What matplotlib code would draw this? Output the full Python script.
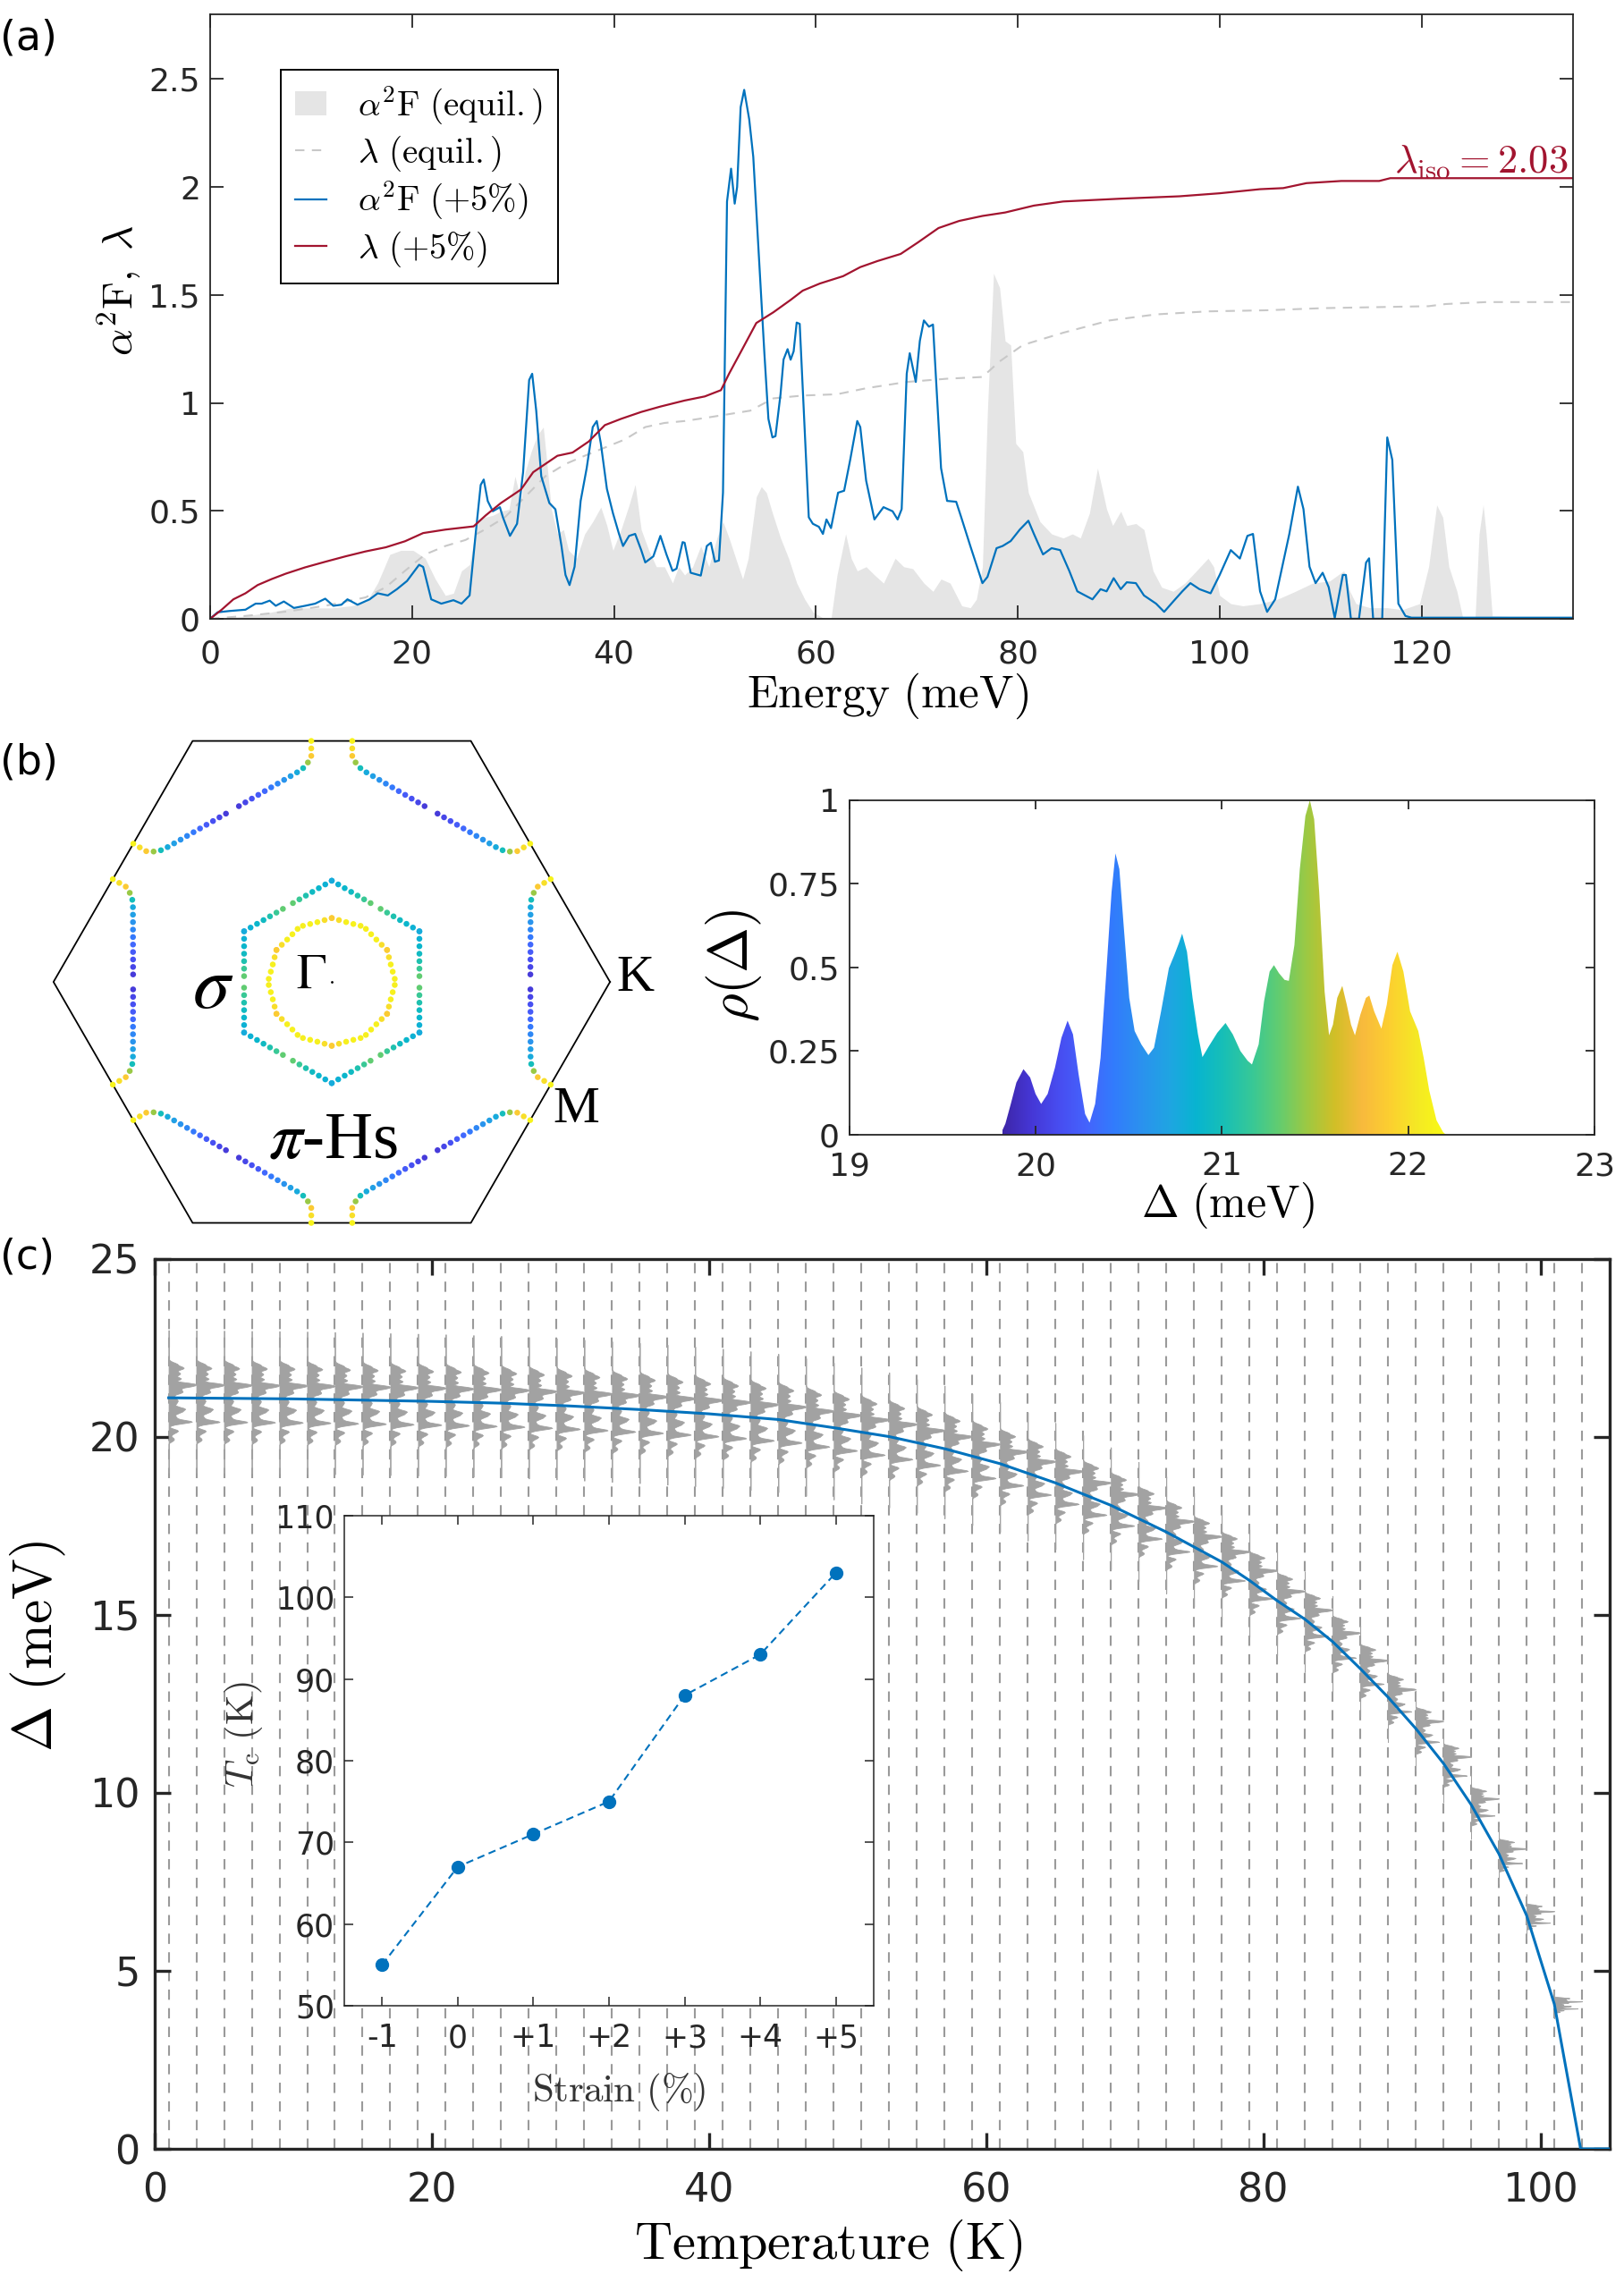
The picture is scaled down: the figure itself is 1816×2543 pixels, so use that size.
import numpy as np
import matplotlib
matplotlib.use('Agg')
import matplotlib.pyplot as plt
from matplotlib.colors import LinearSegmentedColormap

plt.rcParams['font.family'] = 'DejaVu Sans'
plt.rcParams['mathtext.fontset'] = 'cm'

DARK = '#262626'
BLUE = '#0072BD'
RED = '#A2142F'

# ---------------- (a) Eliashberg function and coupling ----------------
E_eq = [0, 3, 6, 8, 10, 12, 14, 15.5, 16.6, 17.8, 18.9, 20.1, 21.3, 22.3, 23.3, 24.1,
        24.9, 25.7, 26.45, 27.2, 28.0, 28.8, 29.6, 30.2, 30.8, 31.2, 31.8, 32.4, 33.0,
        33.25, 33.8, 34.4, 35.0, 35.5, 36.3, 37.1, 37.9, 38.7, 39.3, 39.9, 40.7, 41.5,
        42.1, 42.7, 43.45, 44.2, 45.0, 45.8, 46.4, 47.0, 47.8, 48.6, 49.4, 50.2, 50.8,
        51.4, 52.2, 52.75, 53.3, 54.1, 54.6, 55.1, 55.7, 56.5, 57.3, 58.1, 58.9, 59.7,
        60.7, 61.5, 62.1, 62.95, 63.5, 64.1, 64.98, 65.8, 66.7, 67.85, 68.7, 69.6, 70.7,
        71.6, 72.4, 73.3, 74.45, 75.3, 75.9, 76.5, 77.0, 77.6, 78.2, 78.75, 79.3, 79.8,
        80.5, 81.05, 82.2, 83.35, 84.5, 85.4, 86.2, 87.1, 87.9, 88.8, 89.4, 90.2, 90.8,
        91.7, 92.5, 93.4, 94.25, 95.4, 96.55, 97.7, 98.85, 99.4, 100.0, 101.1, 102.3,
        104.0, 105.7, 107.5, 109.2, 110.9, 112.3, 112.9, 113.5, 114.9, 116.6, 118.1,
        119.8, 120.7, 121.5, 122.1, 122.7, 123.5, 124.1, 125.3, 125.7, 126.1, 126.4,
        127.0, 135]
a2F_eq = [0, 0.01, 0.03, 0.05, 0.05, 0.05, 0.06, 0.08, 0.166, 0.298, 0.317, 0.317, 0.28,
          0.184, 0.108, 0.118, 0.222, 0.251, 0.45, 0.47, 0.479, 0.498, 0.507, 0.66, 0.546,
          0.679, 0.774, 0.85, 0.888, 0.774, 0.507, 0.393, 0.413, 0.317, 0.28, 0.393, 0.45,
          0.517, 0.432, 0.317, 0.413, 0.527, 0.622, 0.413, 0.317, 0.241, 0.241, 0.166,
          0.241, 0.203, 0.241, 0.337, 0.241, 0.374, 0.45, 0.374, 0.26, 0.184, 0.28, 0.565,
          0.612, 0.584, 0.489, 0.374, 0.28, 0.166, 0.09, 0.032, 0.004, 0.0, 0.203, 0.393,
          0.28, 0.222, 0.241, 0.203, 0.165, 0.28, 0.241, 0.232, 0.165, 0.127, 0.184, 0.165,
          0.06, 0.051, 0.09, 0.241, 0.964, 1.60, 1.534, 1.287, 1.268, 0.812, 0.774, 0.584,
          0.45, 0.393, 0.374, 0.393, 0.374, 0.489, 0.698, 0.508, 0.432, 0.498, 0.432,
          0.441, 0.413, 0.222, 0.146, 0.127, 0.165, 0.222, 0.28, 0.241, 0.108, 0.07, 0.06,
          0.07, 0.09, 0.127, 0.165, 0.175, 0.222, 0.127, 0.07, 0.051, 0.051, 0.042, 0.07,
          0.241, 0.527, 0.47, 0.241, 0.127, 0.0, 0.0, 0.393, 0.527, 0.393, 0.013, 0.0]

E_lam_eq = [0, 3.5, 7.5, 11.4, 15.4, 17.4, 19.3, 21.3, 23.3, 25.3, 27.2, 29.2, 31.2, 33.2,
            35.2, 37.1, 39.1, 41.1, 43.1, 45.0, 47.0, 49.0, 51.0, 53.5, 55.8, 58.7, 62.1,
            65.0, 69.0, 73.0, 76.5, 78.2, 80.5, 84.5, 89.1, 93.7, 98.85, 104.6, 110.3,
            120.7, 122.4, 126.4, 135]
lam_eq = [0, 0.013, 0.033, 0.06, 0.099, 0.146, 0.222, 0.298, 0.337, 0.365, 0.413, 0.47,
          0.565, 0.66, 0.717, 0.755, 0.793, 0.831, 0.888, 0.907, 0.916, 0.93, 0.945, 0.964,
          1.021, 1.034, 1.04, 1.068, 1.097, 1.112, 1.12, 1.192, 1.268, 1.325, 1.382, 1.41,
          1.424, 1.429, 1.439, 1.448, 1.458, 1.467, 1.467]

E_5 = [0, 0.74, 1.93, 3.5, 4.5, 5.1, 5.9, 6.5, 7.3, 8.3, 9.4, 10.4, 11.4, 12.2, 13.0, 13.6,
       14.6, 15.8, 16.6, 17.6, 18.5, 19.5, 20.7, 21.1, 21.9, 22.9, 24.1, 24.9, 25.7, 26.3,
       26.8, 27.1, 27.5, 28.0, 28.7, 29.0, 29.7, 30.4, 31.0, 31.6, 31.9, 32.3, 32.8, 33.6,
       34.2, 34.8, 35.2, 35.6, 36.1, 36.7, 37.3, 37.9, 38.3, 38.7, 39.3, 39.9, 40.5, 40.9,
       41.5, 42.1, 42.7, 43.1, 43.9, 44.6, 45.2, 45.8, 46.2, 46.8, 47.0, 47.6, 48.6, 49.2,
       49.6, 50.0, 50.4, 50.8, 51.2, 51.6, 51.96, 52.2, 52.55, 52.9, 53.4, 53.8, 54.3, 54.9,
       55.3, 55.7, 56.0, 56.5, 56.8, 57.2, 57.5, 57.8, 58.1, 58.4, 58.9, 59.3, 59.7, 60.3,
       60.7, 61.05, 61.5, 62.2, 62.8, 63.4, 64.1, 64.4, 64.98, 65.8, 66.7, 67.6, 68.1, 68.5,
       69.0, 69.3, 69.9, 70.3, 70.7, 71.2, 71.6, 72.4, 73.0, 73.9, 74.4, 75.3, 76.5, 77.0,
       77.9, 78.5, 79.3, 80.2, 81.05, 81.6, 82.5, 83.35, 84.2, 85.1, 85.9, 87.4, 88.2, 88.8,
       89.5, 90.2, 90.8, 91.7, 92.5, 93.7, 94.5, 95.4, 96.3, 97.1, 98.0, 99.1, 100.0, 101.1,
       102.0, 102.75, 103.3, 104.0, 104.7, 105.5, 106.9, 107.75, 108.3, 108.9, 109.5, 110.2,
       110.8, 111.4, 112.2, 112.5, 113.0, 113.8, 114.5, 114.8, 115.2, 116.1, 116.6, 117.1,
       117.7, 118.4, 119.0, 135]
a2F_5 = [0, 0.03, 0.036, 0.042, 0.07, 0.07, 0.084, 0.06, 0.08, 0.05, 0.06, 0.07, 0.093,
         0.06, 0.065, 0.09, 0.065, 0.09, 0.118, 0.108, 0.137, 0.175, 0.25, 0.24, 0.09, 0.07,
         0.086, 0.07, 0.108, 0.393, 0.62, 0.645, 0.545, 0.498, 0.517, 0.47, 0.384, 0.44,
         0.679, 1.106, 1.135, 0.964, 0.66, 0.536, 0.507, 0.337, 0.203, 0.156, 0.241, 0.546,
         0.698, 0.888, 0.916, 0.812, 0.602, 0.489, 0.393, 0.337, 0.384, 0.393, 0.318, 0.261,
         0.289, 0.384, 0.298, 0.222, 0.232, 0.355, 0.352, 0.213, 0.20, 0.337, 0.352, 0.264,
         0.27, 0.584, 1.933, 2.085, 1.923, 2.0, 2.37, 2.45, 2.313, 2.14, 1.724, 1.23, 0.926,
         0.84, 0.846, 1.04, 1.201, 1.249, 1.20, 1.239, 1.372, 1.366, 0.869, 0.47, 0.44,
         0.426, 0.393, 0.46, 0.42, 0.584, 0.593, 0.736, 0.916, 0.888, 0.64, 0.46, 0.517,
         0.498, 0.46, 0.508, 1.135, 1.23, 1.097, 1.287, 1.382, 1.353, 1.363, 0.698, 0.546,
         0.542, 0.47, 0.337, 0.165, 0.194, 0.327, 0.337, 0.36, 0.413, 0.454, 0.393, 0.298,
         0.327, 0.318, 0.222, 0.127, 0.09, 0.137, 0.127, 0.188, 0.137, 0.169, 0.165, 0.108,
         0.07, 0.032, 0.08, 0.127, 0.165, 0.137, 0.118, 0.203, 0.318, 0.279, 0.384, 0.393,
         0.127, 0.032, 0.09, 0.393, 0.612, 0.508, 0.241, 0.165, 0.213, 0.146, 0.004, 0.203,
         0.203, 0.0, 0.0, 0.26, 0.28, 0.0, 0.0, 0.84, 0.736, 0.07, 0.013, 0.005, 0.005]

E_lam5 = [0, 1.14, 2.3, 3.5, 4.7, 6.1, 7.5, 9.4, 11.4, 13.4, 15.4, 17.4, 19.3, 21.1, 23.3,
          26.1, 27.3, 28.8, 30.8, 32.0, 33.2, 34.4, 35.9, 37.5, 39.1, 40.7, 42.7, 44.6, 47.0,
          49.0, 50.6, 51.4, 52.6, 54.1, 55.8, 57.5, 58.7, 60.4, 62.7, 64.4, 66.1, 68.4, 70.1,
          72.15, 74.2, 76.5, 78.75, 81.6, 84.5, 90.2, 96.0, 100.0, 104.0, 106.3, 108.6,
          112.05, 115.8, 116.9, 135]
lam_5 = [0, 0.042, 0.09, 0.118, 0.156, 0.184, 0.209, 0.238, 0.264, 0.289, 0.312, 0.331,
         0.359, 0.397, 0.413, 0.428, 0.479, 0.536, 0.599, 0.679, 0.717, 0.755, 0.77, 0.821,
         0.897, 0.926, 0.958, 0.983, 1.011, 1.03, 1.059, 1.135, 1.239, 1.37, 1.42, 1.477,
         1.52, 1.553, 1.587, 1.629, 1.657, 1.69, 1.743, 1.81, 1.843, 1.866, 1.882, 1.914,
         1.933, 1.946, 1.957, 1.971, 1.99, 1.995, 2.018, 2.028, 2.028, 2.041, 2.041]

# ---------------- (b) gap distribution and Fermi-surface gaps ----------------
gap = [19.0, 19.81, 19.837, 19.866, 19.896, 19.934, 19.97, 19.999, 20.029, 20.064, 20.103,
       20.138, 20.171, 20.2, 20.23, 20.265, 20.289, 20.319, 20.348, 20.378, 20.407, 20.428,
       20.449, 20.472, 20.502, 20.531, 20.567, 20.605, 20.635, 20.673, 20.715, 20.744,
       20.768, 20.786, 20.812, 20.842, 20.871, 20.895, 20.93, 20.975, 21.019, 21.058,
       21.099, 21.138, 21.161, 21.197, 21.226, 21.256, 21.279, 21.306, 21.336, 21.359,
       21.389, 21.418, 21.448, 21.472, 21.495, 21.522, 21.551, 21.575, 21.596, 21.619,
       21.646, 21.67, 21.693, 21.714, 21.743, 21.773, 21.791, 21.817, 21.856, 21.885,
       21.915, 21.942, 21.974, 22.01, 22.054, 22.083, 22.113, 22.152, 22.187, 22.202, 23.0]
rho = [0, 0, 0.033, 0.092, 0.156, 0.196, 0.171, 0.122, 0.092, 0.122, 0.20, 0.29, 0.341,
       0.30, 0.181, 0.062, 0.036, 0.092, 0.23, 0.478, 0.725, 0.841, 0.794, 0.626, 0.409,
       0.31, 0.27, 0.238, 0.26, 0.369, 0.498, 0.537, 0.572, 0.601, 0.547, 0.409, 0.30, 0.232,
       0.265, 0.305, 0.334, 0.30, 0.25, 0.221, 0.21, 0.27, 0.399, 0.488, 0.507, 0.483, 0.463,
       0.46, 0.567, 0.794, 0.953, 1.0, 0.943, 0.725, 0.428, 0.297, 0.329, 0.409, 0.445,
       0.389, 0.329, 0.297, 0.359, 0.409, 0.416, 0.369, 0.317, 0.389, 0.507, 0.547, 0.488,
       0.369, 0.31, 0.23, 0.132, 0.043, 0.008, 0, 0]
gap_cmin, gap_cmax = 19.82, 22.2

# Fermi sheets in the Gamma-M / Gamma-K wedge (units of |Gamma-M|), colour = gap on the 0-1 scale
pi_x = [0.085, 0.085, 0.104, 0.126, 0.20, 0.30, 0.41]
pi_y = [1.0, 0.935, 0.902, 0.880, 0.837, 0.779, 0.715]
pi_c = [0.97, 0.85, 0.62, 0.42, 0.32, 0.17, 0.05]
sig_x = [0.0, 0.091, 0.182]
sig_y = [0.42, 0.3675, 0.315]
sig_c = [0.40, 0.48, 0.66]
ring_ang = [90, 75, 60]
ring_r = [0.265, 0.255, 0.265]
ring_c = [0.86, 0.97, 0.95]

# ---------------- (c) gap vs temperature ----------------
T_curve = [1, 10, 20, 25, 30, 35, 40, 45, 49, 53, 57, 61, 65, 69, 73, 77, 79, 81, 83, 85, 87,
           89, 91, 93, 95, 97, 99, 101, 102.9, 105]
gap_T = [21.1, 21.07, 21.0, 20.95, 20.87, 20.77, 20.65, 20.49, 20.26, 20.01, 19.67, 19.25,
         18.71, 18.08, 17.33, 16.49, 15.97, 15.4, 14.88, 14.25, 13.49, 12.69, 11.81, 10.83,
         9.67, 8.29, 6.56, 4.07, 0, 0]
T_runs = list(range(1, 104, 2))

strain = ['-1', '0', '+1', '+2', '+3', '+4', '+5']
Tc = [55, 67, 71, 75, 88, 93, 103]

parula = LinearSegmentedColormap.from_list('parula', [
    (0.2422, 0.1504, 0.6603), (0.2706, 0.2147, 0.8364), (0.2813, 0.3006, 0.9414),
    (0.2699, 0.3892, 0.9906), (0.1963, 0.4847, 0.9892), (0.1687, 0.5703, 0.9359),
    (0.1248, 0.6459, 0.8883), (0.0297, 0.7082, 0.8163), (0.0964, 0.7500, 0.7120),
    (0.2161, 0.7843, 0.5923), (0.3909, 0.8029, 0.4354), (0.6174, 0.7876, 0.2612),
    (0.8203, 0.7498, 0.1535), (0.9728, 0.7298, 0.2394), (0.9892, 0.8136, 0.1885),
    (0.9597, 0.9135, 0.1423), (0.9769, 0.9839, 0.0805)])


def style(ax, size, length, lw=1.3):
    ax.tick_params(direction='in', top=True, right=True, length=length, width=lw,
                   labelsize=size, colors=DARK, labelcolor=DARK)
    for s in ax.spines.values():
        s.set_linewidth(lw)
        s.set_color(DARK)


fig = plt.figure(figsize=(18.16, 25.43), dpi=100)

# ---- panel (a)
ax = fig.add_axes([0.1294, 0.7279, 0.8392, 0.2658])
ax.fill_between(E_eq, a2F_eq, color='#e5e5e5', lw=0, label=r'$\alpha^2\mathrm{F\ (equil.)}$')
ax.plot(E_lam_eq, lam_eq, color='#c8c8c8', lw=1.5, ls=(0, (5, 4)),
        label=r'$\lambda\ \mathrm{(equil.)}$')
ax.plot(E_5, a2F_5, color=BLUE, lw=1.6, label=r'$\alpha^2\mathrm{F\ (+5\%)}$')
ax.plot(E_lam5, lam_5, color=RED, lw=1.6, label=r'$\lambda\ \mathrm{(+5\%)}$')
ax.text(134.5, 2.07, r'$\lambda_{\rm iso}=2.03$', color=RED, fontsize=32, ha='right',
        va='baseline')
ax.set_xlim(0, 135)
ax.set_ylim(0, 2.8)
ax.set_xticks(range(0, 121, 20))
ax.set_yticks([0, 0.5, 1, 1.5, 2, 2.5])
ax.set_yticklabels(['0', '0.5', '1', '1.5', '2', '2.5'])
style(ax, 26, 11)
ax.tick_params(axis='x', pad=16)
ax.tick_params(axis='y', pad=8)
ax.set_xlabel(r'$\mathrm{Energy\ (meV)}$', fontsize=37, va='center')
ax.xaxis.set_label_coords(0.497, -0.127)
ax.set_ylabel(r'$\alpha^2\mathrm{F},\ \lambda$', fontsize=34, va='center')
ax.yaxis.set_label_coords(-0.067, 0.543)
leg = ax.legend(loc='upper left', bbox_to_anchor=(0.0518, 0.908), borderaxespad=0,
                fontsize=28, frameon=True, fancybox=False, edgecolor='black',
                framealpha=1, handlelength=0.9, handletextpad=0.9, labelspacing=0.2,
                borderpad=0.42)
leg.get_frame().set_linewidth(1.4)

# ---- panel (b), Fermi surface
axf = fig.add_axes([0.02258, 0.4581, 0.3634, 0.2202])
axf.set_xlim(-1.2245, 1.2245)
axf.set_ylim(-1.039, 1.039)
axf.axis('off')
kr = 2 / np.sqrt(3)
ang = np.deg2rad(np.arange(0, 361, 60))
axf.plot(kr * np.cos(ang), kr * np.sin(ang), color='black', lw=1.3)


def sheet(xs, ys, cs, step=0.031):
    xs, ys, cs = np.asarray(xs, float), np.asarray(ys, float), np.asarray(cs, float)
    s = np.concatenate([[0], np.cumsum(np.hypot(np.diff(xs), np.diff(ys)))])
    ss = np.arange(0, s[-1] + 1e-9, step)
    px, py, pc = np.interp(ss, s, xs), np.interp(ss, s, ys), np.interp(ss, s, cs)
    # mirror about Gamma-M, then the six rotations of the hexagonal zone
    px, py, pc = np.r_[px, -px], np.r_[py, py], np.r_[pc, pc]
    X, Y, C = [], [], []
    for k in range(6):
        a = np.deg2rad(60 * k)
        X.append(px * np.cos(a) - py * np.sin(a))
        Y.append(px * np.sin(a) + py * np.cos(a))
        C.append(pc)
    return np.concatenate(X), np.concatenate(Y), np.concatenate(C)


ra = np.deg2rad(ring_ang)
for xs, ys, cs in [(pi_x, pi_y, pi_c), (sig_x, sig_y, sig_c),
                   (np.array(ring_r) * np.cos(ra), np.array(ring_r) * np.sin(ra), ring_c)]:
    X, Y, C = sheet(xs, ys, cs)
    axf.scatter(X, Y, c=C, cmap=parula, vmin=0, vmax=1, s=22, lw=0, zorder=3)
axf.plot([0.0], [0.0], marker='.', color='black', ms=2)
axf.text(-0.494, -0.02, r'$\sigma$', fontsize=60, ha='center', va='center',
         math_fontfamily='stix')
axf.text(-0.085, 0.03, r'$\Gamma$', fontsize=40, ha='center', va='center',
         math_fontfamily='stix')
axf.text(1.258, 0.015, 'K', fontsize=42, ha='center', va='center', family='Liberation Serif')
axf.text(1.013, -0.531, 'M', fontsize=42, ha='center', va='center', family='Liberation Serif')
axf.text(0.007, -0.664, r'$\pi$-Hs', fontsize=54, ha='center', va='center',
         family='Liberation Serif', math_fontfamily='stix')

# ---- panel (b), gap distribution
axr = fig.add_axes([0.5231, 0.501, 0.4587, 0.1471])
poly = axr.fill_between(gap, rho, 0, facecolor='none', lw=0)
img = axr.imshow(np.linspace(0, 1, 512)[None, :], cmap=parula, aspect='auto',
                 extent=[gap_cmin, gap_cmax, 0, 1], origin='lower', interpolation='bilinear')
img.set_clip_path(poly.get_paths()[0], transform=axr.transData)
axr.set_xlim(19, 23)
axr.set_ylim(0, 1)
axr.set_xticks([19, 20, 21, 22, 23])
axr.set_yticks([0, 0.25, 0.5, 0.75, 1])
axr.set_yticklabels(['0', '0.25', '0.5', '0.75', '1'])
style(axr, 26, 7)
axr.tick_params(axis='x', pad=13)
axr.tick_params(axis='y', pad=8)
axr.set_xlabel(r'$\Delta\ \mathrm{(meV)}$', fontsize=36, va='center')
axr.xaxis.set_label_coords(0.508, -0.211)
axr.set_ylabel(r'$\rho(\Delta)$', fontsize=44, va='center')
axr.yaxis.set_label_coords(-0.156, 0.505)

# ---- panel (c)
axc = fig.add_axes([0.0953, 0.05505, 0.8959, 0.3913])
for T in T_runs:
    axc.axvline(T, color='#9a9a9a', lw=1.5, ls=(0, (5.5, 4.5)), zorder=1)
rho_a, gap_a = np.array(rho), np.array(gap)
for T in T_runs[:-1]:
    r = np.interp(T, T_curve, gap_T) / gap_T[0]
    axc.fill_betweenx(gap_a * r, T, T + 2.0 * rho_a, color='#a2a2a2', lw=0.6,
                      edgecolor='#a2a2a2', zorder=2)
axc.plot(T_curve, gap_T, color=BLUE, lw=2.2, zorder=3)
axc.set_xlim(0, 105)
axc.set_ylim(0, 25)
axc.set_xticks(range(0, 101, 20))
axc.set_yticks(range(0, 26, 5))
style(axc, 32, 13, lw=2.4)
axc.tick_params(axis='x', pad=18)
axc.tick_params(axis='y', pad=12)
axc.set_xlabel(r'$\mathrm{Temperature\ (K)}$', fontsize=42, va='center')
axc.xaxis.set_label_coords(0.463, -0.109)
axc.set_ylabel(r'$\Delta\ \mathrm{(meV)}$', fontsize=44, va='center')
axc.yaxis.set_label_coords(-0.0805, 0.565)

# inset: Tc vs strain
axi = fig.add_axes([0.2120, 0.1180, 0.3260, 0.2155])
xi = np.arange(len(strain))
axi.plot(xi, Tc, color=BLUE, lw=1.5, ls=(0, (4, 2.5)), marker='o', ms=10)
axi.set_xlim(-0.5, 6.5)
axi.set_ylim(50, 110)
axi.set_xticks(xi)
axi.set_xticklabels(strain)
axi.set_yticks(range(50, 111, 10))
style(axi, 25, 7, lw=1.1)
axi.tick_params(axis='x', pad=14)
axi.tick_params(axis='y', pad=8)
axi.set_xlabel(r'$\mathrm{Strain\ (\%)}$', fontsize=31, color='#333333', va='center')
axi.xaxis.set_label_coords(0.519, -0.177)
axi.set_ylabel(r'$T_{\rm c}\ \mathrm{(K)}$', fontsize=31, color='#333333', va='center')
axi.yaxis.set_label_coords(-0.19, 0.553)

# panel letters
fig.text(0.0, 0.9921, '(a)', fontsize=33, va='top', ha='left')
fig.text(0.0, 0.6736, '(b)', fontsize=33, va='top', ha='left')
fig.text(0.0, 0.4558, '(c)', fontsize=33, va='top', ha='left')

fig.savefig('out.png', dpi=100)
